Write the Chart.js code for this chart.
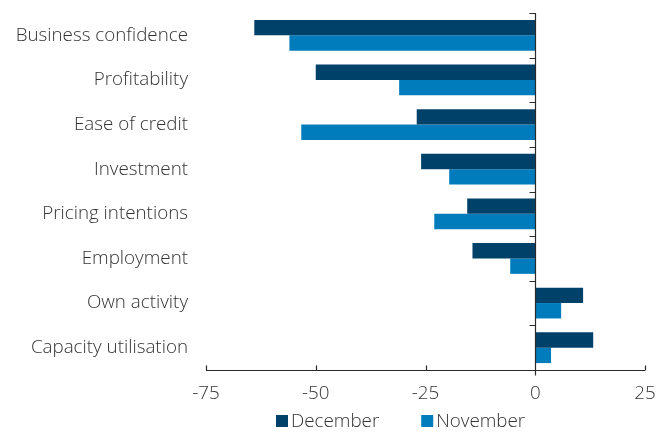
<!DOCTYPE html>
<html>
<head>
<meta charset="utf-8">
<script src="https://cdn.jsdelivr.net/npm/chart.js@4.4.1/dist/chart.umd.min.js"></script>
<style>
  html, body { margin: 0; padding: 0; background: #fff; }
  #wrap { width: 669px; height: 432px; position: relative; }
</style>
</head>
<body>
<div id="wrap"><canvas id="chart"></canvas></div>
<script>
// survey balances
const categories = [
  'Business confidence',
  'Profitability',
  'Ease of credit',
  'Investment',
  'Pricing intentions',
  'Employment',
  'Own activity',
  'Capacity utilisation'
];
const december = [-64, -50, -27, -26, -15.5, -14.3, 10.9, 13.2];
const november = [-56, -31, -53.3, -19.6, -23, -5.7, 5.9, 3.6];
const xTicks = [-75, -50, -25, 0, 25];

const textColor = '#333';
const lineColor = '#2a2a2a';
const fontFamily = '"Open Sans", "DejaVu Sans", sans-serif';
const fontSize = 18.8;
const fontWeight = 300;

// axis lines and inward tick marks, drawn from the chart's own scales
const axisMarks = {
  id: 'axisMarks',
  afterDatasetsDraw(chart) {
    const { ctx, chartArea, scales } = chart;
    const x = scales.x, y = scales.y;
    const zeroX = Math.round(x.getPixelForValue(0)) + 0.5;
    const baseY = Math.round(chartArea.bottom) + 0.5;
    ctx.save();
    ctx.strokeStyle = lineColor;
    ctx.lineWidth = 1.2;
    ctx.beginPath();
    ctx.moveTo(x.getPixelForValue(xTicks[0]), baseY);
    ctx.lineTo(x.getPixelForValue(xTicks[xTicks.length - 1]), baseY);
    xTicks.forEach(v => {
      const px = Math.round(x.getPixelForValue(v)) + 0.5;
      ctx.moveTo(px, baseY);
      ctx.lineTo(px, baseY - 5);
    });
    ctx.moveTo(zeroX, chartArea.top);
    ctx.lineTo(zeroX, baseY + 5);
    for (let i = 0; i < categories.length; i++) {
      const py = Math.round(y.getPixelForValue(i - 0.5)) + 0.5;
      ctx.moveTo(zeroX, py);
      ctx.lineTo(zeroX - 6, py);
    }
    ctx.stroke();
    ctx.restore();
  }
};

// legend below the axis: small squares, tight text gap, wide item gap
const bottomLegend = {
  id: 'bottomLegend',
  afterDraw(chart) {
    const { ctx, chartArea } = chart;
    const cy = 421;
    let cx = chartArea.left + 70;
    ctx.save();
    ctx.font = `${fontWeight} ${fontSize}px ${fontFamily}`;
    ctx.textBaseline = 'middle';
    chart.data.datasets.forEach(ds => {
      ctx.fillStyle = ds.backgroundColor;
      ctx.fillRect(cx, cy - 6, 12, 12);
      cx += 15;
      ctx.fillStyle = textColor;
      ctx.fillText(ds.label, cx, cy + 1);
      cx += ctx.measureText(ds.label).width + 42;
    });
    ctx.restore();
  }
};

new Chart(document.getElementById('chart'), {
  type: 'bar',
  data: {
    labels: categories,
    datasets: [
      {
        label: 'December',
        data: december,
        backgroundColor: '#00416a',
        categoryPercentage: 0.69,
        barPercentage: 1.0
      },
      {
        label: 'November',
        data: november,
        backgroundColor: '#007bbb',
        categoryPercentage: 0.69,
        barPercentage: 1.0
      }
    ]
  },
  options: {
    indexAxis: 'y',
    responsive: true,
    maintainAspectRatio: false,
    animation: false,
    layout: { padding: { top: 13, right: 24, left: 0, bottom: 0 } },
    plugins: {
      tooltip: { enabled: false },
      legend: { display: false }
    },
    scales: {
      x: {
        min: -75,
        max: 25,
        afterBuildTicks(scale) {
          scale.ticks = xTicks.map(v => ({ value: v }));
        },
        afterFit(scale) { scale.height = 62; },
        grid: { display: false, drawTicks: false },
        border: { display: false },
        ticks: {
          color: textColor,
          font: { family: fontFamily, size: fontSize, weight: fontWeight },
          padding: 12
        }
      },
      y: {
        afterFit(scale) {
          scale.width = 206;
          scale.paddingTop = 0;
          scale.paddingBottom = 0;
        },
        grid: { display: false, drawTicks: false },
        border: { display: false },
        ticks: {
          color: textColor,
          font: { family: fontFamily, size: fontSize, weight: fontWeight },
          padding: 18
        }
      }
    }
  },
  plugins: [axisMarks, bottomLegend]
});
</script>
</body>
</html>
